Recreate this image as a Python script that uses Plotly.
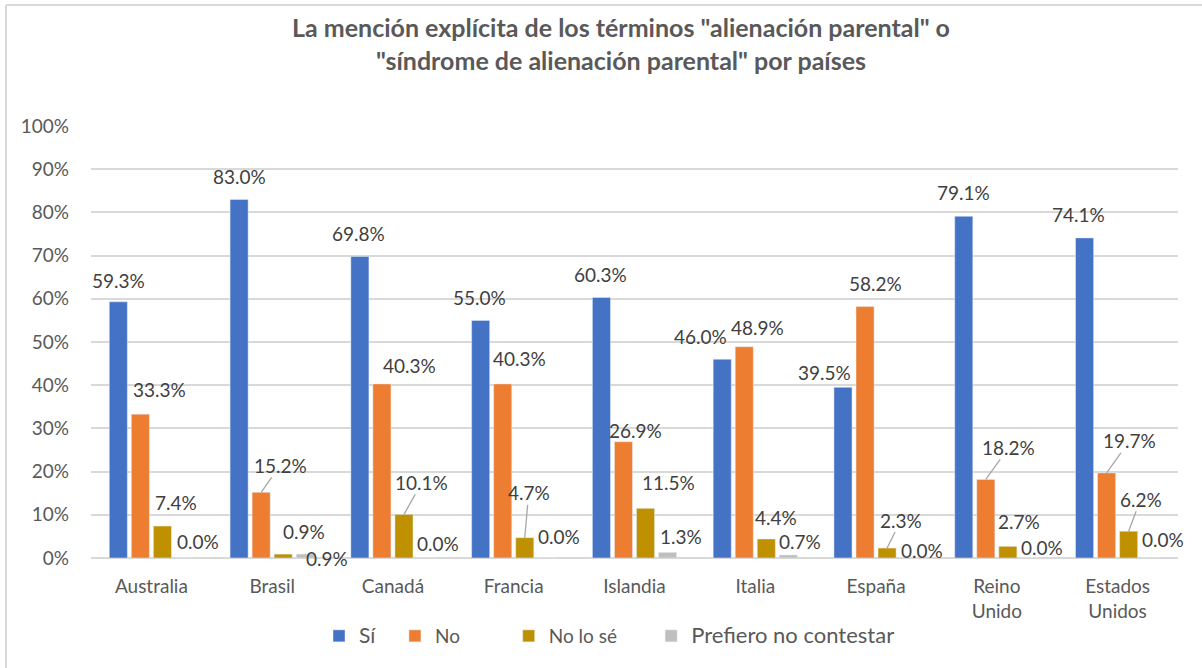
import plotly.graph_objects as go

# ---- datos ----
PAISES = ["Australia", "Brasil", "Canadá", "Francia", "Islandia", "Italia",
          "España", "Reino<br>Unido", "Estados<br>Unidos"]
SI = [59.3, 83.0, 69.8, 55.0, 60.3, 46.0, 39.5, 79.1, 74.1]
NO = [33.3, 15.2, 40.3, 40.3, 26.9, 48.9, 58.2, 18.2, 19.7]
NO_LO_SE = [7.4, 0.9, 10.1, 4.7, 11.5, 4.4, 2.3, 2.7, 6.2]
PREFIERO = [0.0, 0.9, 0.0, 0.0, 1.3, 0.7, 0.0, 0.0, 0.0]

TITULO = ('La mención explícita de los términos "alienación parental" o<br>'
          '"síndrome de alienación parental" por países')

# ---- estilo (paleta Office) ----
AZUL, NARANJA, ORO, GRIS = "#4472C4", "#ED7D31", "#BF9000", "#BFBFBF"
INK, INK2, GRID, LEADER = "#404040", "#595959", "#D9D9D9", "#A6A6A6"
FONT = "Lato, 'Open Sans', sans-serif"
BARGAP, GROUPGAP = 0.27, 0.18
NB = "\u00a0"

# nombre en leyenda (con relleno para imitar el espaciado de Excel)
series = [
    ("Sí", '<span style="font-size:21px">Sí</span>' + NB * 3, SI, AZUL),
    ("No", "No" + NB * 9, NO, NARANJA),
    ("No lo sé", "No lo sé" + NB * 6, NO_LO_SE, ORO),
    ("Prefiero no contestar",
     '<span style="font-size:22px">Prefiero no contestar</span>', PREFIERO, GRIS),
]

# desplazamiento manual de etiquetas (px: dx, altura sobre la barra, línea guía)
OFFSETS = [
    [(0, 21, 0), (0, 23, 0), (-1, 23, 0), (-1, 23, 0), (-1, 23, 0), (-22, 23, 0),
     (-18, 15, 0), (0, 24, 0), (-6, 23, 0)],
    [(19, 25, 0), (19, 27, 1), (28, 18, 0), (17, 25, 0), (12, 11, 0), (13, 19, 0),
     (10, 23, 0), (23, 32, 1), (23, 32, 1)],
    [(14, 24, 0), (21, 23, 0), (18, 32, 1), (4, 45, 1), (23, 26, 0), (10, 21, 0),
     (14, 28, 1), (11, 25, 0), (12, 32, 1)],
    [(14, 17, 0), (22, -4, 1), (12, 15, 0), (12, 22, 0), (13, 16, 0), (12, 13, 0),
     (13, 8, 0), (12, 11, 0), (12, 19, 0)],
]

xs = list(range(len(PAISES)))
slot = (1 - BARGAP) / 4

fig = go.Figure()
for _, legend_name, vals, color in series:
    fig.add_trace(go.Bar(x=xs, y=vals, name=legend_name, marker=dict(color=color),
                         hoverinfo="skip"))

for k, (_, _, vals, color) in enumerate(series):
    for i, v in enumerate(vals):
        dx, dy, lead = OFFSETS[k][i]
        fig.add_annotation(
            x=i + (k - 1.5) * slot, y=v, text=f"{v:.1f}%",
            showarrow=True, arrowhead=0, arrowwidth=1.3, standoff=0,
            arrowcolor=LEADER if lead else "rgba(0,0,0,0)",
            ax=dx, ay=-dy, borderpad=0,
            font=dict(family=FONT, size=19, color=INK))

# título
fig.add_annotation(xref="paper", yref="paper", x=(621 - 91) / 1087,
                   y=(558 - 44) / 432, xanchor="center", yanchor="middle",
                   text="<b>" + TITULO + "</b>", showarrow=False,
                   font=dict(family=FONT, size=25, color=INK2))

# marco del gráfico (borde izquierdo y superior)
top = (558 - 5) / 432
left = (6 - 91) / 1087
fig.add_shape(type="line", xref="paper", yref="paper", x0=left, x1=1.05,
              y0=top, y1=top, line=dict(color=GRID, width=2))
fig.add_shape(type="line", xref="paper", yref="paper", x0=left, x1=left,
              y0=-0.3, y1=top, line=dict(color=GRID, width=2))

fig.update_layout(
    width=1202, height=668, barmode="group", bargap=BARGAP, bargroupgap=GROUPGAP,
    paper_bgcolor="white", plot_bgcolor="white",
    margin=dict(l=91, r=24, t=126, b=110),
    font=dict(family=FONT, size=19, color=INK2),
    legend=dict(orientation="h", x=(319 - 91) / 1087, xanchor="left",
                y=(558 - 636) / 432, yanchor="middle",
                font=dict(family=FONT, size=19, color=INK2), traceorder="normal"),
    showlegend=True,
)
fig.update_xaxes(range=[-0.5, len(PAISES) - 0.5], tickvals=xs, ticktext=PAISES,
                 showgrid=False, zeroline=False, showline=False, ticks="",
                 ticklabelstandoff=15, tickfont=dict(size=19, color=INK2))
fig.update_yaxes(range=[0, 100], tickmode="linear", tick0=0, dtick=10,
                 ticksuffix="%",
                 showgrid=True, gridcolor=GRID, gridwidth=2,
                 zeroline=True, zerolinecolor=GRID, zerolinewidth=2,
                 showline=False, ticks="", ticklabelstandoff=21,
                 tickfont=dict(size=19, color=INK2))

fig.write_html("out.html", config={"displayModeBar": False},
               post_script="document.body.style.margin='0';")
